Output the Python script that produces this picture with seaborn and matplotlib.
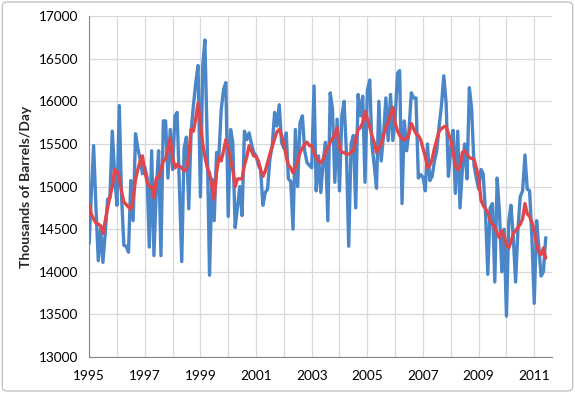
import matplotlib
matplotlib.use("Agg")
import matplotlib.pyplot as plt
from matplotlib.patches import FancyBboxPatch
import seaborn as sns
import pandas as pd

# monthly values, Jan 1995 .. Jun 2011 (thousands of barrels/day)
monthly = [
    # 1995
    14330, 14950, 15480, 14750, 14130, 14500, 14110, 14460, 14850, 14870, 15650, 15160,
    # 1996
    14780, 15950, 14900, 14310, 14300, 14230, 15070, 14600, 15620, 15450, 15320, 15150,
    # 1997
    15230, 15100, 14290, 15420, 14190, 14970, 15420, 14190, 15770, 15770, 15100, 15670,
    # 1998
    15200, 15830, 15870, 14970, 14120, 15450, 15580, 14740, 15650, 15950, 16220, 16420,
    # 1999
    14880, 16420, 16720, 15500, 13960, 15090, 14600, 15400, 15360, 15900, 16140, 16220,
    # 2000
    14650, 15670, 15520, 14520, 14750, 15000, 14660, 15650, 15550, 15630, 15500, 15400,
    # 2001
    15360, 15250, 15200, 14780, 14930, 14970, 15320, 15480, 15870, 15710, 15960, 15520,
    # 2002
    15450, 15630, 15090, 15060, 14500, 15670, 15000, 15750, 15830, 15420, 15280, 15250,
    # 2003
    15220, 16180, 14950, 15360, 14930, 15300, 15520, 14600, 16100, 15910, 15050, 15790,
    # 2004
    14950, 15830, 16000, 15400, 14300, 15500, 15600, 14750, 16080, 15830, 16060, 15050,
    # 2005
    16130, 16250, 15500, 15250, 14980, 16000, 15300, 15600, 16040, 15540, 16080, 15540,
    # 2006
    15800, 16330, 16360, 14800, 15770, 15420, 15650, 16100, 16040, 16040, 15100, 15140,
    # 2007
    15110, 14950, 15500, 15070, 15120, 15300, 15420, 15710, 15950, 16300, 15980, 15120,
    # 2008
    15450, 15660, 14920, 15650, 14750, 15200, 15500, 15090, 16160, 15910, 15250, 15100,
    # 2009
    14970, 15200, 15150, 14700, 13970, 14750, 14800, 13880, 15100, 14700, 14000, 14500,
    # 2010
    13480, 14600, 14780, 14400, 13880, 14500, 14880, 14950, 15370, 14970, 14950, 14400,
    # 2011
    13630, 14600, 14300, 13950, 14000, 14400,
]

# smoothed (average) series, same months
average = [
    14790, 14670, 14620, 14570, 14560, 14540, 14450, 14600, 14750, 14880, 15000, 15200,
    15180, 15100, 14950, 14820, 14790, 14760, 14730, 14850, 15080, 15200, 15300, 15360,
    15180, 15050, 15000, 15000, 14870, 15100, 15100, 15200, 15300, 15320, 15450, 15570,
    15350, 15220, 15260, 15240, 15220, 15180, 15200, 15360, 15670, 15650, 15800, 15980,
    15750, 15500, 15350, 15220, 15160, 15000, 14850, 15160, 15350, 15300, 15420, 15550,
    15450, 15320, 15200, 15000, 15090, 15090, 15090, 15250, 15350, 15480, 15420, 15360,
    15350, 15300, 15200, 15120, 15180, 15280, 15380, 15470, 15560, 15640, 15670, 15600,
    15500, 15350, 15250, 15220, 15160, 15220, 15300, 15400, 15450, 15500, 15520, 15480,
    15480, 15400, 15340, 15300, 15280, 15320, 15400, 15450, 15520, 15560, 15620, 15690,
    15450, 15400, 15400, 15380, 15380, 15400, 15420, 15550, 15670, 15690, 15750, 15880,
    15800, 15700, 15600, 15520, 15400, 15450, 15500, 15600, 15700, 15750, 15850, 15930,
    15750, 15650, 15600, 15560, 15550, 15560, 15620, 15740, 15680, 15620, 15600, 15550,
    15450, 15350, 15220, 15250, 15320, 15450, 15550, 15650, 15680, 15700, 15710, 15620,
    15550, 15400, 15250, 15200, 15230, 15400, 15420, 15380, 15340, 15330, 15320, 15220,
    15100, 14840, 14780, 14740, 14700, 14600, 14560, 14520, 14450, 14400, 14480, 14420,
    14320, 14280, 14350, 14450, 14480, 14520, 14560, 14620, 14800, 14680, 14650, 14580,
    14480, 14320, 14230, 14200, 14280, 14160,
]

years = list(range(1995, 2012))
label_years = [1995, 1997, 1999, 2001, 2003, 2005, 2007, 2009, 2011]
y_ticks = list(range(13000, 17001, 500))

dates = pd.date_range("1995-01-01", periods=len(monthly), freq="MS")
df = pd.DataFrame({"date": dates, "monthly": monthly, "average": average})

sns.set_style("white")
plt.rcParams["font.family"] = ["Lato", "DejaVu Sans"]

fig = plt.figure(figsize=(5.75, 3.93), dpi=100)
ax = fig.add_axes([0.155, 0.0916, 0.805, 0.8674])

grid_c = "#D9D9D9"
axis_c = "#868686"

sns.lineplot(data=df, x="date", y="monthly", ax=ax, color="#4A86C8",
             linewidth=2.4, zorder=3)
sns.lineplot(data=df, x="date", y="average", ax=ax, color="#E0474C",
             linewidth=2.4, zorder=4)

ax.set_ylim(13000, 17000)
ax.set_xlim(pd.Timestamp("1995-01-01"), pd.Timestamp("2011-08-22"))
ax.set_yticks(y_ticks)
ax.set_yticklabels([str(v) for v in y_ticks])
tick_dates = [pd.Timestamp(f"{y}-01-01") for y in years]
ax.set_xticks(tick_dates)
ax.set_xticklabels([str(y) if y in label_years else "" for y in years])

ax.grid(True, color=grid_c, linewidth=0.9, zorder=0)
for s in ["top", "right"]:
    ax.spines[s].set_visible(False)
for s in ["left", "bottom"]:
    ax.spines[s].set_color(axis_c)
    ax.spines[s].set_linewidth(0.8)
ax.tick_params(axis="both", length=3.5, width=0.8, color=axis_c,
               labelsize=9.8, labelcolor="#000000", direction="out")
ax.tick_params(axis="x", pad=6)
ax.tick_params(axis="y", pad=4)
ax.set_xlabel("")
ax.set_ylabel("Thousands of Barrels/Day", fontsize=10, fontweight="bold", labelpad=5)

fig.patches.append(FancyBboxPatch((0.004, 0.005), 0.992, 0.99,
                                  boxstyle="round,pad=0,rounding_size=0.01",
                                  transform=fig.transFigure, fill=False,
                                  edgecolor="#BFBFBF", linewidth=0.9))

fig.savefig("out.png", dpi=100)
